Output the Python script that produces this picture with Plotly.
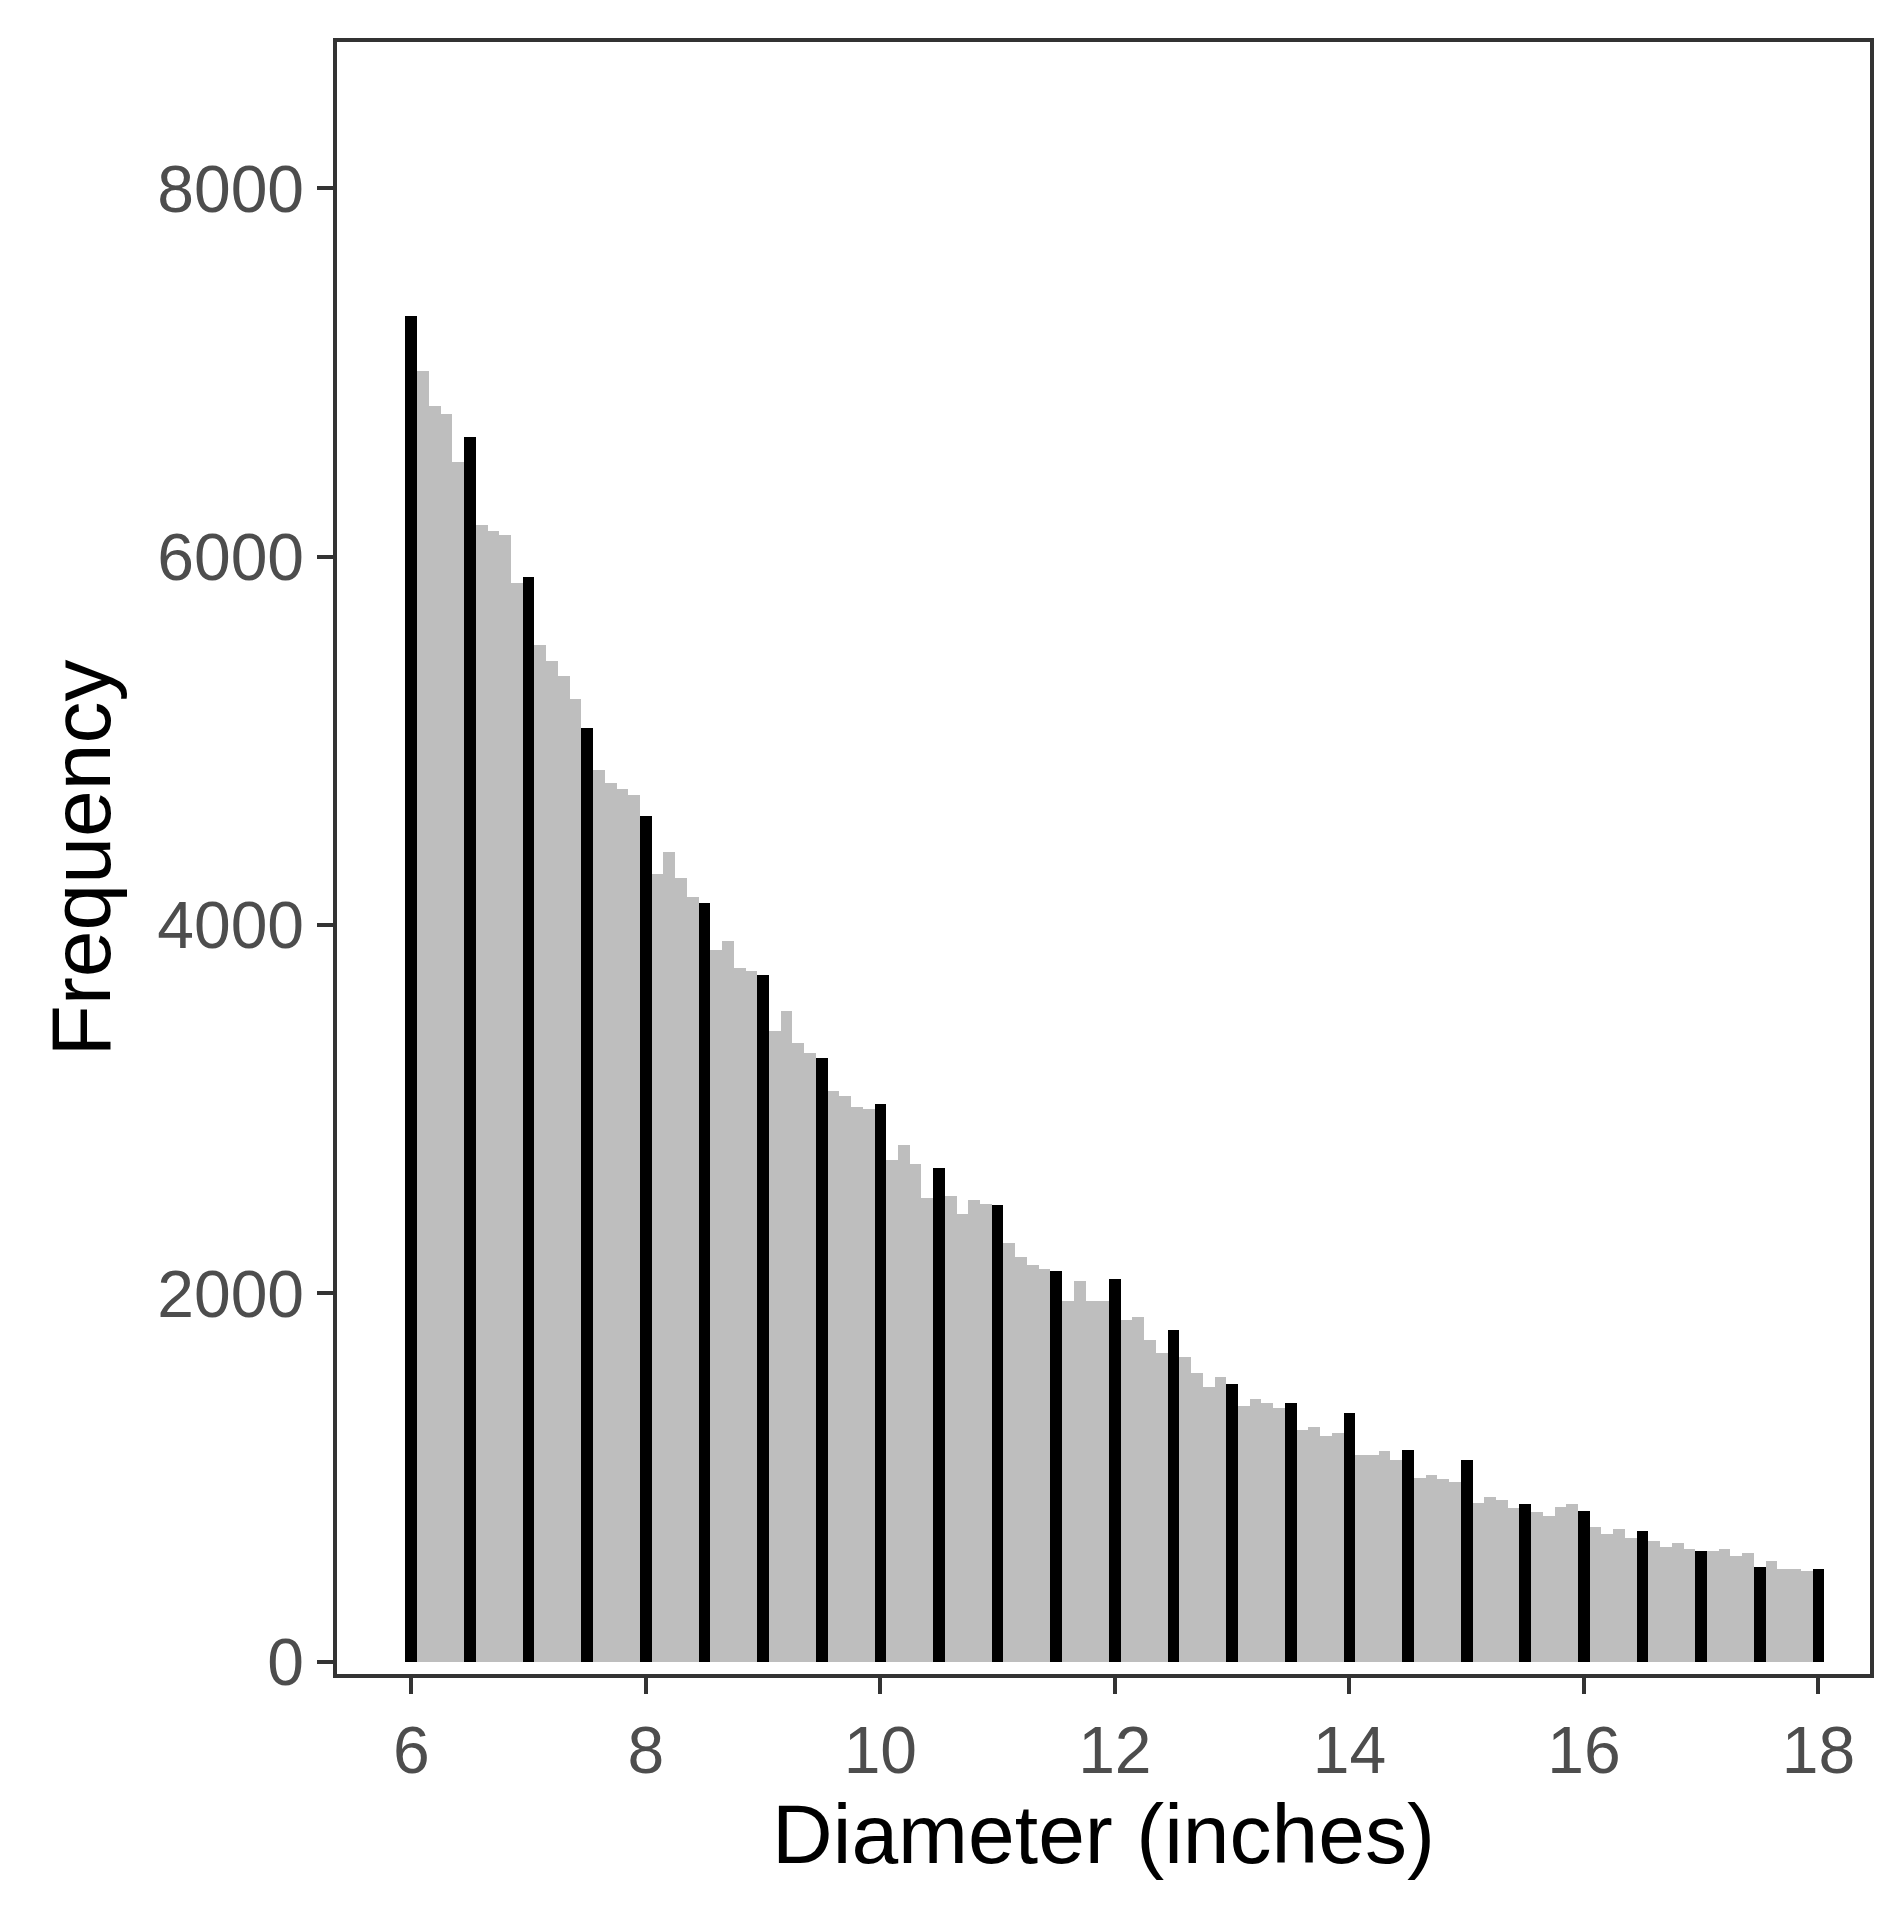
import plotly.graph_objects as go

# diameter bins (0.1 inch) and counts
diameters = [round(6 + 0.1 * i, 1) for i in range(121)]
counts = [
    7310, 7010, 6820, 6775, 6515, 6650, 6170, 6140, 6120, 5860,
    5890, 5520, 5435, 5355, 5230, 5070, 4845, 4770, 4740, 4705,
    4590, 4275, 4395, 4255, 4155, 4120, 3865, 3915, 3765, 3750,
    3730, 3425, 3535, 3360, 3305, 3280, 3100, 3075, 3015, 3000,
    3030, 2725, 2805, 2705, 2520, 2680, 2530, 2430, 2505, 2485,
    2480, 2275, 2200, 2155, 2135, 2120, 1960, 2070, 1960, 1960,
    2080, 1855, 1875, 1745, 1675, 1800, 1655, 1570, 1490, 1545,
    1510, 1390, 1425, 1405, 1380, 1405, 1260, 1275, 1225, 1245,
    1350, 1125, 1125, 1145, 1095, 1150, 1000, 1015, 995, 975,
    1095, 860, 895, 880, 835, 855, 815, 790, 840, 855,
    820, 730, 695, 720, 670, 710, 655, 625, 645, 615,
    600, 600, 615, 575, 590, 515, 550, 505, 505, 495,
    505,
]

# half-inch bins highlighted in black
half_x = [d for d in diameters if round(d * 10) % 5 == 0]
half_y = [c for d, c in zip(diameters, counts) if round(d * 10) % 5 == 0]

gray = go.Bar(x=diameters, y=counts, width=0.1, marker=dict(color="#bebebe", line_width=0))
black = go.Bar(x=half_x, y=half_y, width=0.1, marker=dict(color="black", line_width=0))

axis_font = dict(family="Liberation Sans, Arial", size=66, color="#4d4d4d")
title_font = dict(family="Liberation Sans, Arial", size=84, color="black")

layout = go.Layout(
    width=1892, height=1918,
    margin=dict(l=329, r=30, t=34, b=252),
    plot_bgcolor="white", paper_bgcolor="white",
    barmode="overlay", bargap=0, showlegend=False,
    xaxis=dict(range=[5.366, 18.44], tickvals=[6, 8, 10, 12, 14, 16, 18],
               ticks="outside", ticklen=16, tickwidth=3.5, tickcolor="#333333",
               showgrid=False, zeroline=False, showline=True, linecolor="#333333", linewidth=3.5,
               mirror=True, tickfont=axis_font,
               title=dict(text="Diameter (inches)", font=title_font, standoff=16)),
    yaxis=dict(range=[-66, 8795], tickvals=[0, 2000, 4000, 6000, 8000],
               ticks="outside", ticklen=16, tickwidth=3.5, tickcolor="#333333",
               showgrid=False, zeroline=False, showline=True, linecolor="#333333", linewidth=3.5,
               mirror=True, tickfont=axis_font,
               title=dict(text="Frequency", font=title_font, standoff=20)),
)

fig = go.Figure(data=[gray, black], layout=layout)
fig.write_html("out.html")
